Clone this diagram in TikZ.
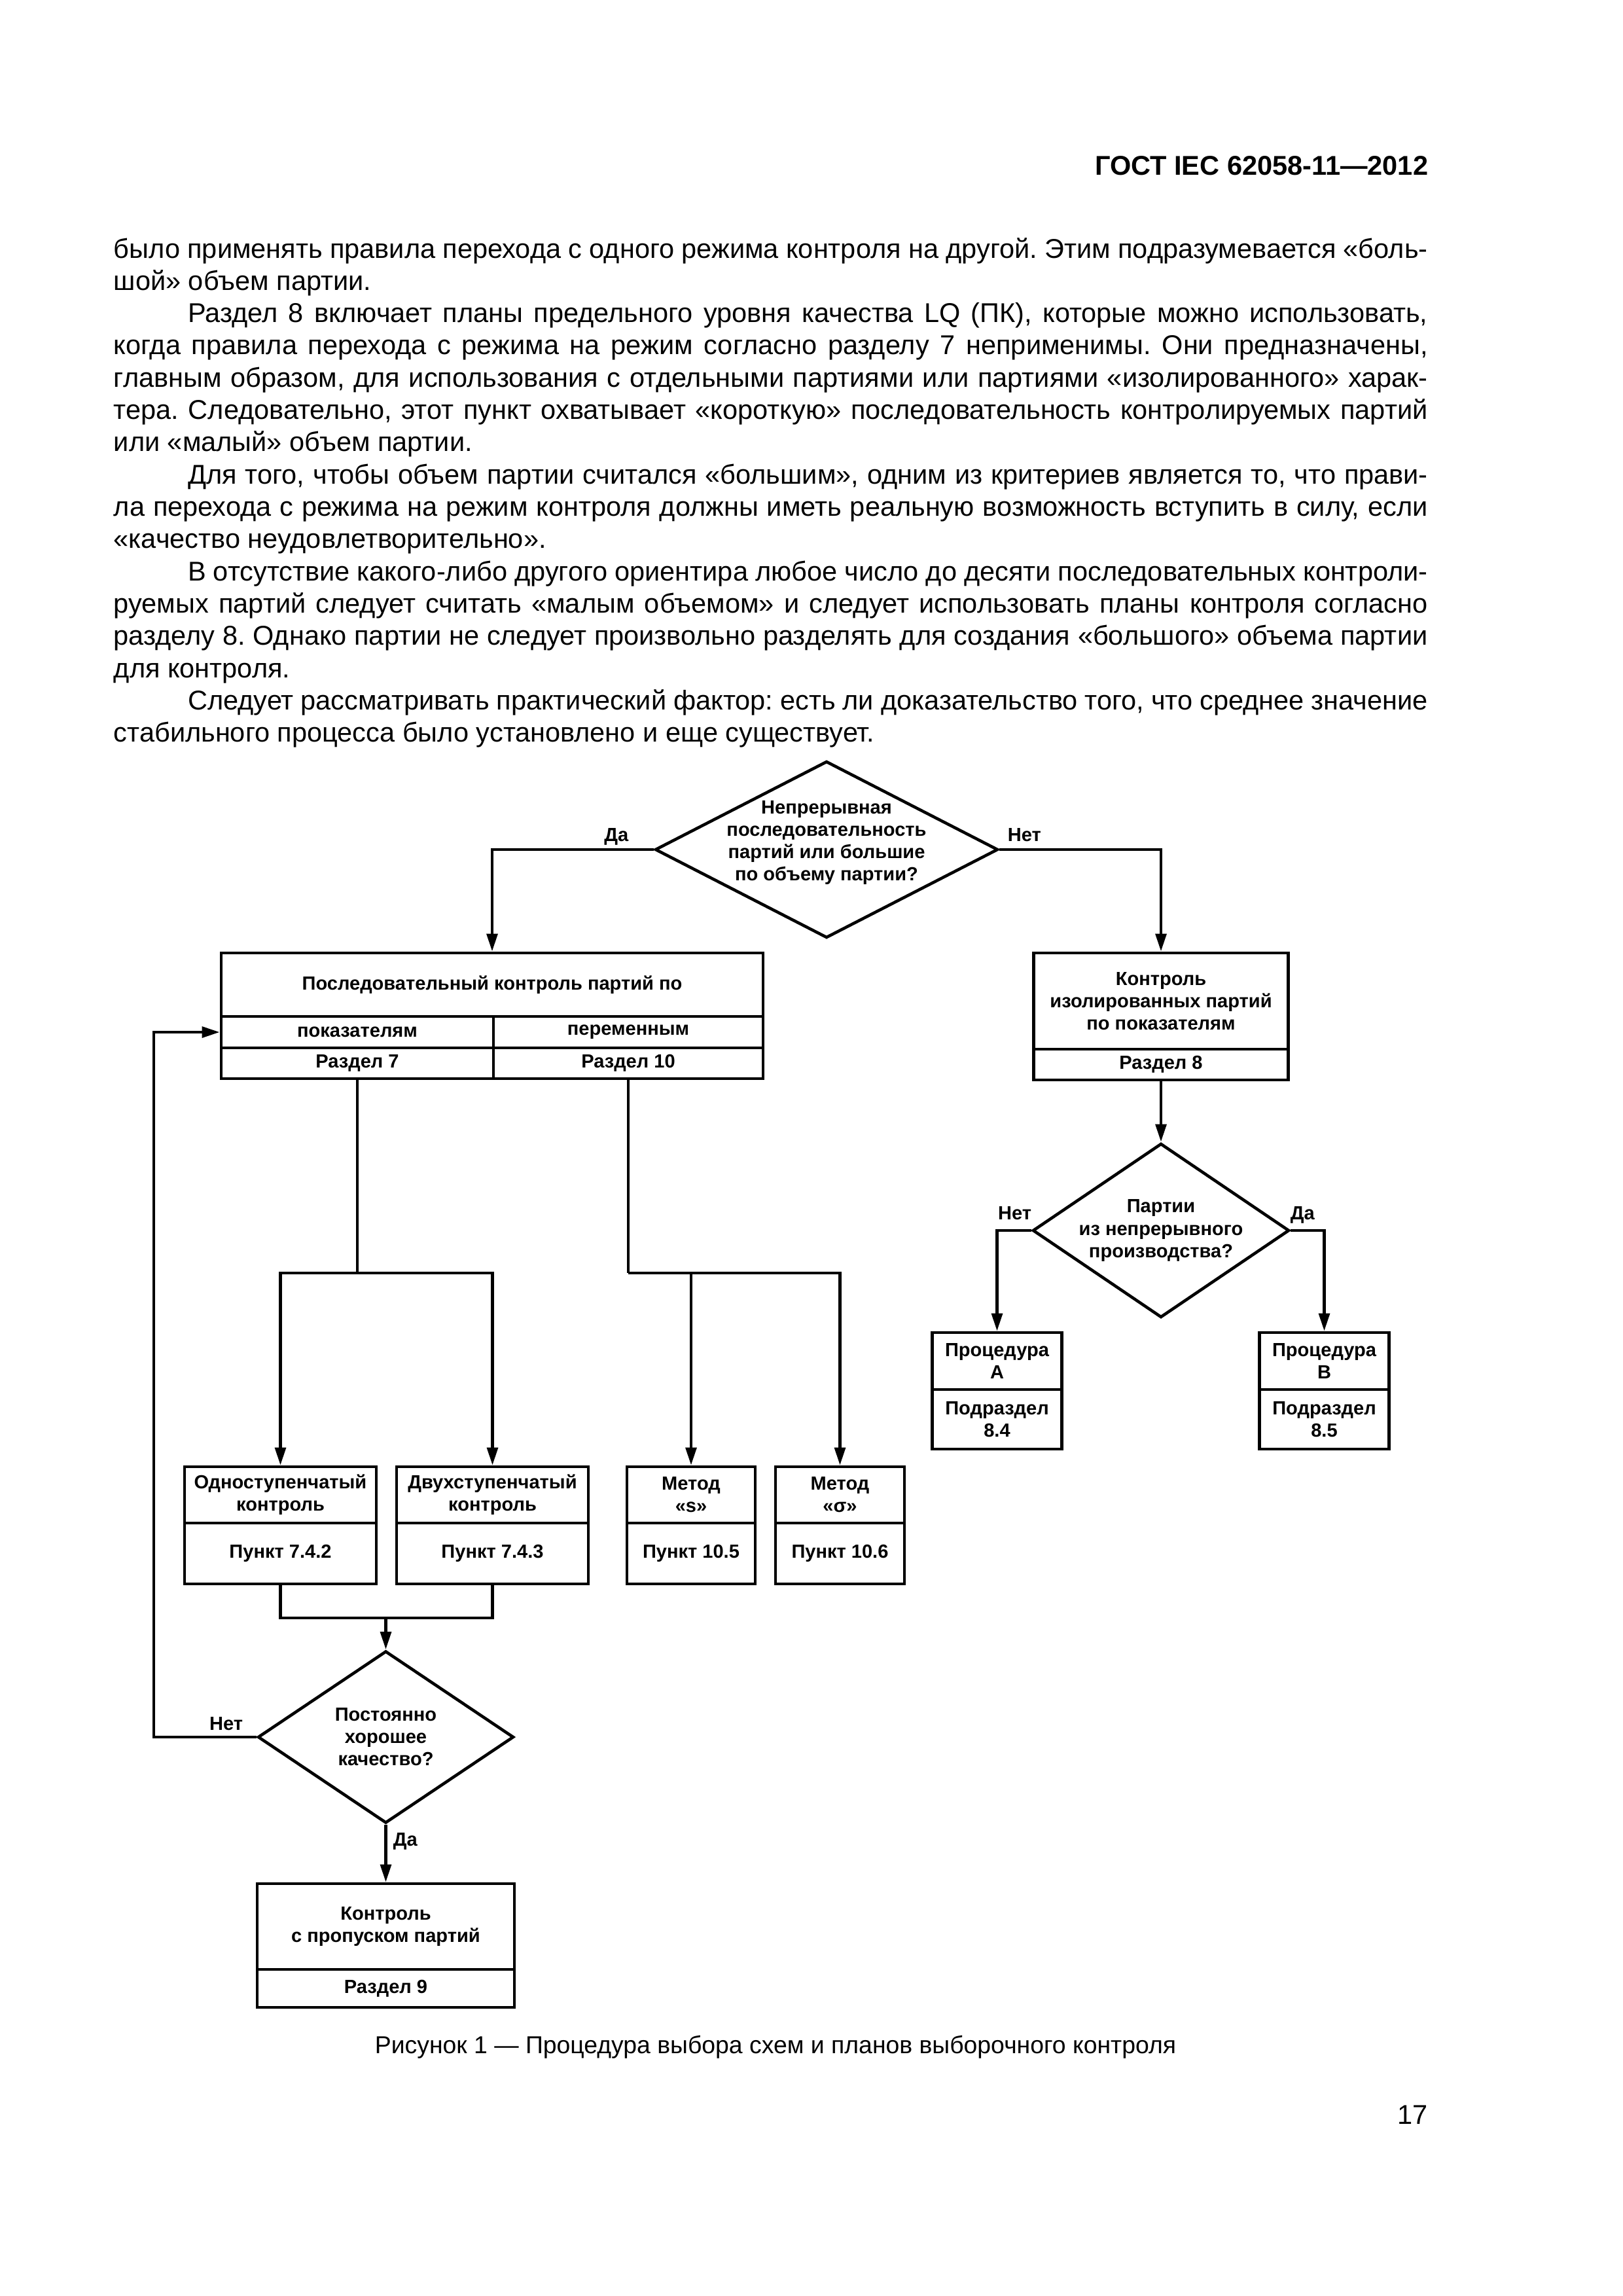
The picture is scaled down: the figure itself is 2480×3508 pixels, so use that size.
\documentclass[tikz,border=0pt]{standalone}
\usepackage{fontspec}
\setmainfont{Liberation Sans}
\usetikzlibrary{shapes.geometric,arrows.meta}

% unita' = 1 pixel della pagina (2480 x 3508)
\newcommand{\pxu}{0.0846667mm}
\newcommand{\flowfont}{\fontsize{7pt}{8.2pt}\selectfont\bfseries}
\newcommand{\bodyfont}{\fontsize{10pt}{11.88pt}\selectfont}
\frenchspacing

\begin{document}
\begin{tikzpicture}[x=0.0846667mm, y=-0.0846667mm,
  box/.style={draw, line width=1.1pt, inner sep=0pt, align=center, font=\flowfont},
  dia/.style={draw, diamond, line width=1.1pt, inner sep=0pt},
  lbl/.style={inner sep=0pt, font=\flowfont},
  link/.style={line width=1.1pt},
  arr/.style={line width=1.1pt, -{Triangle[length=2.3mm, width=1.4mm]}},
  sz/.style 2 args={minimum width=#1*\pxu, minimum height=#2*\pxu}]

% Pagina
\useasboundingbox (0,0) rectangle (2480,3508);

% Intestazione
\node[anchor=base east, inner sep=0pt, font=\fontsize{10pt}{12pt}\selectfont\bfseries] (head) at (2183,267) {ГОСТ IEC 62058-11—2012};

% Testo
\node[anchor=base west, inner sep=0pt] (body) at (173,394) {\parbox[t]{170mm}{\bodyfont\frenchspacing\setlength{\parindent}{9.6mm}\exhyphenpenalty=10000
\noindent было применять правила перехода с одного режима контроля на другой. Этим подразумевается «боль-\linebreak шой» объем партии.\par
Раздел 8 включает планы предельного уровня качества LQ (ПК), которые можно использовать,\linebreak когда правила перехода с режима на режим согласно разделу 7 неприменимы. Они предназначены,\linebreak главным образом, для использования с отдельными партиями или партиями «изолированного» харак-\linebreak тера. Следовательно, этот пункт охватывает «короткую» последовательность контролируемых партий\linebreak или «малый» объем партии.\par
Для того, чтобы объем партии считался «большим», одним из критериев является то, что прави-\linebreak ла перехода с режима на режим контроля должны иметь реальную возможность вступить в силу, если\linebreak «качество неудовлетворительно».\par
В отсутствие какого-либо другого ориентира любое число до десяти последовательных контроли-\linebreak руемых партий следует считать «малым объемом» и следует использовать планы контроля согласно\linebreak разделу 8. Однако партии не следует произвольно разделять для создания «большого» объема партии\linebreak для контроля.\par
Следует рассматривать практический фактор: есть ли доказательство того, что среднее значение\linebreak стабильного процесса было установлено и еще существует.}};

% Rombo iniziale
\node[dia, sz={524}{270}, label={[lbl,align=center,yshift=0.9mm]center:Непрерывная\\последовательность\\партий или большие\\по объему партии?}] (d1) at (1263,1298) {};
\node[lbl, anchor=base east] (yes1) at (961,1285) {Да};
\node[lbl, anchor=base west] (no1) at (1539,1285) {Нет};

% Ramo sinistro
\node[box, sz={828}{97}] (seq) at (752,1504.5) {Последовательный контроль партий по};
\node[box, sz={416}{48}] (pok) at (546,1577) {показателям};
\node[box, sz={412}{48}] (per) at (960,1577) {переменным};
\node[box, sz={416}{47}] (r7) at (546,1624.5) {Раздел 7};
\node[box, sz={412}{47}] (r10) at (960,1624.5) {Раздел 10};

% Ramo destro
\node[box, sz={389}{147}] (iso) at (1774,1529.5) {Контроль\\изолированных партий\\по показателям};
\node[box, sz={389}{47}] (r8) at (1774,1626.5) {Раздел 8};
\node[dia, sz={392}{266}, label={[lbl,align=center]center:Партии\\из непрерывного\\производства?}] (d2) at (1774,1880) {};
\node[lbl, anchor=base east] (no2) at (1577,1863) {Нет};
\node[lbl, anchor=base west] (yes2) at (1971,1863) {Да};
\node[box, sz={198}{87}] (pA) at (1523.5,2079.5) {Процедура\\A};
\node[box, sz={198}{91}] (sA) at (1523.5,2168.5) {Подраздел\\8.4};
\node[box, sz={198}{87}] (pB) at (2023.5,2079.5) {Процедура\\B};
\node[box, sz={198}{91}] (sB) at (2023.5,2168.5) {Подраздел\\8.5};

% Metodi
\node[box, sz={293}{86}] (one) at (428.5,2284) {Одноступенчатый\\контроль};
\node[box, sz={293}{93}] (p742) at (428.5,2373.5) {Пункт 7.4.2};
\node[box, sz={293}{86}] (two) at (752.5,2284) {Двухступенчатый\\контроль};
\node[box, sz={293}{93}] (p743) at (752.5,2373.5) {Пункт 7.4.3};
\node[box, sz={196}{86}] (ms) at (1056,2284) {Метод\\«s»};
\node[box, sz={196}{93}] (p105) at (1056,2373.5) {Пункт 10.5};
\node[box, sz={197}{86}] (msig) at (1283.5,2284) {Метод\\«σ»};
\node[box, sz={197}{93}] (p106) at (1283.5,2373.5) {Пункт 10.6};

% Rombo qualita'
\node[dia, sz={391}{263}, label={[lbl,align=center]center:Постоянно\\хорошее\\качество?}] (d3) at (589.5,2654) {};
\node[lbl, anchor=base east] (no3) at (372,2643) {Нет};
\node[lbl, anchor=west] (yes3) at (600,2813) {Да};
\node[box, sz={393}{131}] (skip) at (589.5,2943.5) {Контроль\\с пропуском партий};
\node[box, sz={393}{58}] (r9) at (589.5,3038) {Раздел 9};

% Collegamenti
\coordinate (jL) at (546,1945);
\coordinate (jR) at (960,1945);
\coordinate (jM) at (589.5,2472);
\coordinate (fb) at (235,2654);
\draw[arr] (d1.west) -| (seq.north);
\draw[arr] (d1.east) -| (iso.north);
\draw[arr] (r8.south) -- (d2.north);
\draw[arr] (d2.west) -| (pA.north);
\draw[arr] (d2.east) -| (pB.north);
\draw[link] (r7.south) -- (jL);
\draw[arr] (jL) -| (one.north);
\draw[arr] (jL) -| (two.north);
\draw[link] (r10.south) -- (jR);
\draw[arr] (jR) -| (ms.north);
\draw[arr] (jR) -| (msig.north);
\draw[link] (p742.south) |- (jM) -| (p743.south);
\draw[arr] (jM) -- (d3.north);
\draw[arr] (d3.south) -- (skip.north);
\draw[arr] (d3.west) -- (fb) |- (pok.west);

% Didascalia e numero di pagina
\node[anchor=base, inner sep=0pt, font=\fontsize{9pt}{11pt}\selectfont] (cap) at (1185,3137) {Рисунок 1 — Процедура выбора схем и планов выборочного контроля};
\node[anchor=base east, inner sep=0pt, font=\bodyfont] (pg) at (2182,3245) {17};

\end{tikzpicture}
\end{document}
